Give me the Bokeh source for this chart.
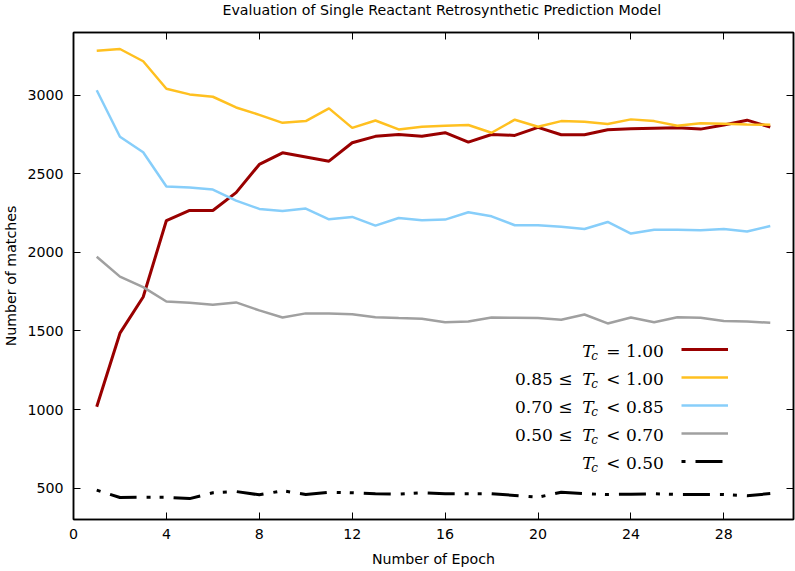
from bokeh.plotting import figure
from bokeh.models import LinearAxis, FixedTicker, Range1d, Legend, LegendItem, Label
from bokeh.embed import file_html
from bokeh.resources import INLINE

# ---------------- data ----------------
epochs = list(range(1, 31))
tc_eq_100 = [1018, 1486, 1716, 2203, 2267, 2267, 2381, 2560, 2634, 2608,
             2581, 2698, 2739, 2751, 2740, 2762, 2702, 2751, 2745, 2796,
             2749, 2749, 2781, 2787, 2791, 2793, 2785, 2811, 2842, 2798]
tc_085_100 = [3284, 3295, 3217, 3042, 3006, 2991, 2923, 2876, 2825, 2836,
              2917, 2793, 2840, 2783, 2800, 2806, 2811, 2762, 2845, 2800,
              2836, 2832, 2817, 2847, 2836, 2806, 2823, 2819, 2815, 2813]
tc_070_085 = [3032, 2736, 2638, 2420, 2413, 2400, 2330, 2277, 2264, 2279,
              2211, 2226, 2171, 2219, 2205, 2209, 2256, 2230, 2173, 2173,
              2164, 2149, 2194, 2120, 2145, 2145, 2141, 2149, 2133, 2168]
tc_050_070 = [1973, 1846, 1779, 1688, 1680, 1667, 1682, 1631, 1586, 1612,
              1612, 1607, 1588, 1582, 1578, 1556, 1560, 1586, 1584, 1582,
              1571, 1605, 1548, 1586, 1556, 1588, 1584, 1563, 1560, 1552]
tc_lt_050 = [487, 440, 442, 442, 433, 470, 478, 457, 483, 459,
             474, 470, 464, 461, 470, 464, 464, 464, 453, 442,
             474, 464, 459, 461, 464, 459, 459, 459, 451, 465]

x_ticks = [0, 4, 8, 12, 16, 20, 24, 28]
y_ticks = [500, 1000, 1500, 2000, 2500, 3000]

legend_prefix = ["", "0.85 \u2264", "0.70 \u2264", "0.50 \u2264", ""]
legend_suffix = ["= 1.00", "< 1.00", "< 0.85", "< 0.70", "< 0.50"]

title_text = "Evaluation of Single Reactant Retrosynthetic Prediction Model"
x_label = "Number of Epoch"
y_label = "Number of matches"

# ---------------- layout ----------------
CUT = 16                      # figure starts this far above the page top
W, H = 795, 571 + CUT
BL, BR, BT, BB = 72, 2, 32 + CUT, 52
X0, X1 = 0, 31
Y0, Y1 = 300, 3400
FW = W - BL - BR
FH = H - BT - BB

SANS = "DejaVu Sans"
SERIF = "DejaVu Serif"
FS = "14.2px"

p = figure(width=W, height=H, x_range=Range1d(X0, X1), y_range=Range1d(Y0, Y1),
           output_backend="svg", toolbar_location=None,
           min_border_left=BL, min_border_right=BR,
           min_border_top=BT, min_border_bottom=BB,
           title=title_text)
p.margin = (-CUT, 0, 0, 0)
p.grid.visible = False
p.background_fill_color = "white"
p.border_fill_color = "white"
p.outline_line_color = "black"
p.outline_line_width = 1.5

p.title.align = "left"
p.title.offset = 149
p.title.vertical_align = "bottom"
p.title.standoff = 30
p.title.text_font = SANS
p.title.text_font_size = FS
p.title.text_font_style = "normal"
p.title.text_color = "black"


def style_axis(ax, ticks, show_labels):
    ax.ticker = FixedTicker(ticks=ticks)
    ax.axis_line_color = "black"
    ax.axis_line_width = 1.5
    ax.major_tick_in = 7
    ax.major_tick_out = 0
    ax.minor_tick_in = 0
    ax.minor_tick_out = 0
    ax.major_tick_line_color = "black"
    ax.major_tick_line_width = 1
    if show_labels:
        ax.major_label_text_font = SANS
        ax.major_label_text_font_size = FS
        ax.major_label_text_color = "black"
        ax.axis_label_text_font = SANS
        ax.axis_label_text_font_size = FS
        ax.axis_label_text_font_style = "normal"
        ax.axis_label_text_color = "black"
    else:
        ax.major_label_text_font_size = "0px"
        ax.major_label_text_alpha = 0
        ax.major_label_standoff = 0


style_axis(p.xaxis[0], x_ticks, True)
style_axis(p.yaxis[0], y_ticks, True)
p.xaxis[0].axis_label = x_label
p.yaxis[0].axis_label = y_label
p.xaxis[0].major_label_standoff = 9
p.xaxis[0].axis_label_standoff = 9
p.yaxis[0].major_label_standoff = 10
p.yaxis[0].axis_label_standoff = 5

top_ax = LinearAxis()
style_axis(top_ax, x_ticks, False)
p.add_layout(top_ax, "above")
right_ax = LinearAxis()
style_axis(right_ax, y_ticks, False)
p.add_layout(right_ax, "right")

# ---------------- series ----------------
r1 = p.line(epochs, tc_eq_100, line_color="#990000", line_width=3)
r2 = p.line(epochs, tc_085_100, line_color="#FFC020", line_width=2.5)
r3 = p.line(epochs, tc_070_085, line_color="#87CEFA", line_width=2.5)
r4 = p.line(epochs, tc_050_070, line_color="#A0A0A0", line_width=2.5)
r5 = p.line(epochs, tc_lt_050, line_color="black", line_width=3,
            line_dash="4 10 27 10 4 9")
renderers = [r1, r2, r3, r4, r5]

# ---------------- legend ----------------
ROW = 28
LEG_LEFT_PX = 608
LEG_BOTTOM_PX = 44
legend = Legend(items=[LegendItem(label=" ", renderers=[r]) for r in renderers],
                location=(LEG_LEFT_PX, LEG_BOTTOM_PX),
                glyph_width=47, glyph_height=ROW, spacing=0,
                label_width=0, label_height=0, label_standoff=0,
                label_text_font_size="1px",
                padding=0, margin=0,
                border_line_alpha=0, background_fill_alpha=0)
p.add_layout(legend)


def dx(px_from_left):
    return X0 + px_from_left / FW * (X1 - X0)


def dy(px_from_top):
    return Y1 - px_from_top / FH * (Y1 - Y0)


leg_top = FH - LEG_BOTTOM_PX - ROW * len(renderers)
for i, (pre, suf) in enumerate(zip(legend_prefix, legend_suffix)):
    base = leg_top + ROW / 2 + ROW * i + 1.5
    common = dict(text_font=SERIF, text_color="black", text_baseline="alphabetic")
    if pre:
        p.add_layout(Label(x=dx(499.7), y=dy(base), text=pre, text_align="right",
                           text_font_size="17px", **common))
    p.add_layout(Label(x=dx(509.5), y=dy(base), text="T", text_align="left",
                       text_font_size="17px", text_font_style="italic", **common))
    p.add_layout(Label(x=dx(518.5), y=dy(base + 4.5), text="c", text_align="left",
                       text_font_size="12px", text_font_style="italic", **common))
    p.add_layout(Label(x=dx(533.5), y=dy(base), text=suf, text_align="left",
                       text_font_size="17px", **common))

open("out.html", "w").write(file_html(p, INLINE))
